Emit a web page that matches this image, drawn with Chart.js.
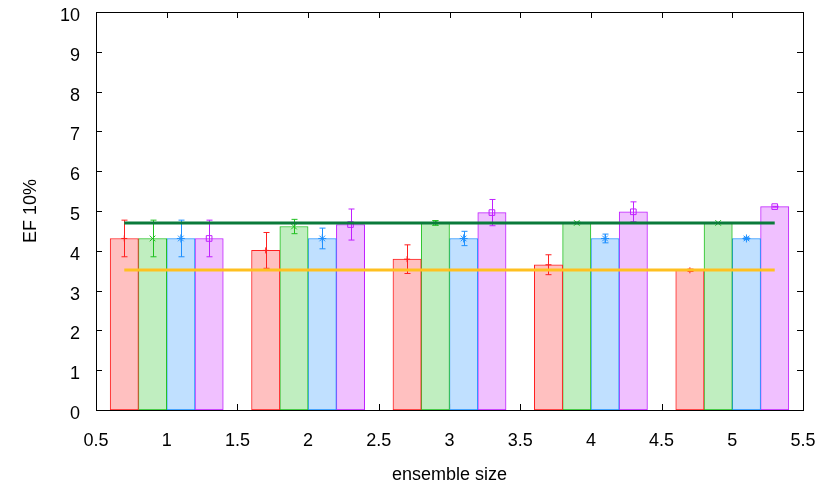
<!DOCTYPE html>
<html>
<head>
<meta charset="utf-8">
<script src="https://cdn.jsdelivr.net/npm/chart.js@4.4.1/dist/chart.umd.min.js"></script>
<style>
  html, body { margin: 0; padding: 0; background: #fff; }
  canvas { display: block; }
</style>
</head>
<body>
<canvas id="chart" width="831" height="486"></canvas>
<script>
// ensemble sizes (group centres) and where each of the 4 bars sits inside a group
const groups = [1, 2, 3, 4, 5];
const barOffsets = [-0.3, -0.1, 0.1, 0.3];

// EF 10% per series, with error bar half-heights
const redVals = [4.31, 4.01, 3.79, 3.65, 3.51];
const redErr = [0.46, 0.45, 0.36, 0.25, 0.03];
const greenVals = [4.31, 4.61, 4.70, 4.70, 4.70];
const greenErr = [0.46, 0.18, 0.06, 0.02, 0.01];
const blueVals = [4.31, 4.31, 4.31, 4.31, 4.31];
const blueErr = [0.46, 0.26, 0.18, 0.11, 0.03];
const purpleVals = [4.31, 4.66, 4.96, 4.98, 5.11];
const purpleErr = [0.46, 0.39, 0.33, 0.25, 0.01];

// reference lines
const refLineX = [0.7, 5.3];
const greenLineY = 4.70;
const orangeLineY = 3.52;

const xTicks = [0.5, 1, 1.5, 2, 2.5, 3, 3.5, 4, 4.5, 5, 5.5];
const yTicks = [0, 1, 2, 3, 4, 5, 6, 7, 8, 9, 10];

const series = [
  { vals: redVals, err: redErr, stroke: '#ff2020', fill: '#ffc0c0', point: 'cross', r: 3 },
  { vals: greenVals, err: greenErr, stroke: '#20c020', fill: '#c0eec0', point: 'crossRot', r: 4 },
  { vals: blueVals, err: blueErr, stroke: '#1e90ff', fill: '#c0e0ff', point: 'star', r: 4 },
  { vals: purpleVals, err: purpleErr, stroke: '#c020ff', fill: '#f0c0ff', point: 'rect', r: 4 }
];

const FONT = { family: '"Liberation Sans", Arial, sans-serif', size: 18 };

const frameTicksPlugin = {
  id: 'frameTicks',
  beforeDatasetsDraw(chart) {
    const { ctx, chartArea: a, scales: { x, y } } = chart;
    ctx.save();
    ctx.strokeStyle = '#000';
    ctx.lineWidth = 1;
    ctx.beginPath();
    xTicks.forEach(v => {
      const px = Math.round(x.getPixelForValue(v)) + 0.5;
      ctx.moveTo(px, a.bottom); ctx.lineTo(px, a.bottom - 6);
      ctx.moveTo(px, a.top); ctx.lineTo(px, a.top + 6);
    });
    yTicks.forEach(v => {
      const py = Math.round(y.getPixelForValue(v)) + 0.5;
      ctx.moveTo(a.left, py); ctx.lineTo(a.left + 6, py);
      ctx.moveTo(a.right, py); ctx.lineTo(a.right - 6, py);
    });
    ctx.stroke();
    ctx.restore();
  },
  afterDatasetDraw(chart, args) {
    if (args.meta.type !== 'bar') return;
    const s = series[args.index];
    const { ctx, scales: { x, y } } = chart;
    ctx.save();
    ctx.strokeStyle = s.stroke;
    ctx.lineWidth = 1;
    ctx.beginPath();
    groups.forEach((g, i) => {
      const cx = Math.round(x.getPixelForValue(g + barOffsets[args.index])) + 0.5;
      const yt = y.getPixelForValue(s.vals[i] + s.err[i]);
      const yb = y.getPixelForValue(s.vals[i] - s.err[i]);
      ctx.moveTo(cx, yt); ctx.lineTo(cx, yb);
      ctx.moveTo(cx - 3, yt); ctx.lineTo(cx + 3, yt);
      ctx.moveTo(cx - 3, yb); ctx.lineTo(cx + 3, yb);
    });
    ctx.stroke();
    ctx.restore();
  },
  afterDatasetsDraw(chart) {
    const { ctx, chartArea: a } = chart;
    ctx.save();
    ctx.strokeStyle = '#000';
    ctx.lineWidth = 1;
    ctx.strokeRect(Math.round(a.left) + 0.5, Math.round(a.top) + 0.5,
      Math.round(a.right - a.left), Math.round(a.bottom - a.top));
    ctx.restore();
  }
};

const barSets = series.map((s, k) => ({
  type: 'bar',
  data: groups.map((g, i) => ({ x: g + barOffsets[k], y: s.vals[i] })),
  backgroundColor: s.fill,
  borderColor: s.stroke,
  borderWidth: 1,
  borderSkipped: false,
  grouped: false,
  barPercentage: 1,
  categoryPercentage: 1,
  order: 2
}));

const markerSets = series.map((s, k) => ({
  type: 'line',
  showLine: false,
  data: groups.map((g, i) => ({ x: g + barOffsets[k], y: s.vals[i] })),
  pointStyle: s.point,
  pointRadius: s.r,
  pointBorderWidth: 1,
  pointBorderColor: s.stroke,
  pointBackgroundColor: 'rgba(0,0,0,0)',
  order: 1
}));

const lineSets = [
  { y: orangeLineY, color: '#ffc020' },
  { y: greenLineY, color: '#0a7a3a' }
].map(l => ({
  type: 'line',
  data: refLineX.map(v => ({ x: v, y: l.y })),
  borderColor: l.color,
  borderWidth: 3,
  pointRadius: 0,
  order: 0
}));

Chart.defaults.color = '#000';

new Chart(document.getElementById('chart'), {
  type: 'bar',
  data: { datasets: [...barSets, ...markerSets, ...lineSets] },
  options: {
    responsive: false,
    animation: false,
    layout: { padding: { left: 0, right: 28, top: 12, bottom: 0 } },
    plugins: { legend: { display: false }, tooltip: { enabled: false } },
    scales: {
      x: {
        type: 'linear',
        min: 0.5,
        max: 5.5,
        offset: false,
        grid: { display: false, drawTicks: false },
        border: { display: false },
        afterBuildTicks: sc => { sc.ticks = xTicks.map(v => ({ value: v })); },
        afterFit: sc => { sc.height = 76; sc.paddingLeft = 0; sc.paddingRight = 0; },
        ticks: { font: FONT, padding: 20, maxRotation: 0, autoSkip: false, callback: v => String(v) },
        title: { display: true, text: 'ensemble size', font: FONT, padding: { top: 0, bottom: 0 } }
      },
      y: {
        min: 0,
        max: 10,
        grid: { display: false, drawTicks: false },
        border: { display: false },
        afterBuildTicks: sc => { sc.ticks = yTicks.map(v => ({ value: v })); },
        afterFit: sc => { sc.width = 96; sc.paddingTop = 0; sc.paddingBottom = 0; },
        ticks: { font: FONT, padding: 16, labelOffset: 4, callback: v => String(v) },
        title: { display: true, text: 'EF 10%', font: FONT, padding: { top: 20, bottom: 0 } }
      }
    }
  },
  plugins: [frameTicksPlugin]
});
</script>
</body>
</html>
